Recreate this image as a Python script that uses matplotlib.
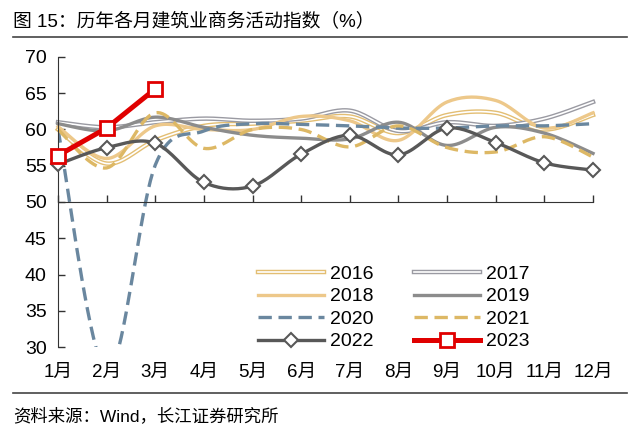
import numpy as np
import matplotlib
matplotlib.use('Agg')
import matplotlib.pyplot as plt
import matplotlib.patheffects as pe
from matplotlib.lines import Line2D

plt.rcParams['font.family'] = ['Liberation Sans', 'Noto Sans CJK SC']

months = ['1月', '2月', '3月', '4月', '5月', '6月', '7月', '8月', '9月', '10月', '11月', '12月']
y2016 = [60.0, 55.3, 58.5, 60.5, 60.8, 61.2, 61.8, 59.5, 62.0, 62.3, 60.0, 62.0]
y2017 = [61.0, 60.3, 61.0, 61.5, 61.2, 61.5, 62.6, 59.8, 61.0, 60.5, 61.5, 63.8]
y2018 = [60.4, 56.0, 60.5, 60.0, 60.0, 61.8, 61.2, 58.5, 63.8, 64.0, 60.2, 62.3]
y2019 = [60.8, 59.8, 61.7, 60.3, 59.2, 58.8, 58.7, 61.0, 57.8, 60.3, 59.5, 56.7]
y2020 = [60.0, 26.6, 55.1, 59.8, 60.8, 60.7, 60.5, 60.2, 60.2, 60.5, 60.5, 60.8]
y2021 = [60.0, 54.7, 62.3, 57.4, 60.0, 60.0, 57.6, 60.5, 57.5, 56.9, 59.0, 56.2]
y2022 = [55.2, 57.5, 58.1, 52.7, 52.2, 56.6, 59.2, 56.5, 60.2, 58.2, 55.4, 54.4]
y2023 = [56.4, 60.2, 65.6]

N = 20


def smooth(y):
    # bezier through the points, like excel smoothed lines
    x = np.arange(1, len(y) + 1, dtype=float)
    y = np.asarray(y, dtype=float)
    xs, ys = [], []
    t = np.linspace(0, 1, N, endpoint=False)
    n = len(y)
    for i in range(n - 1):
        i0, i3 = max(i - 1, 0), min(i + 2, n - 1)
        p0 = np.array([x[i0], y[i0]])
        p1 = np.array([x[i], y[i]])
        p2 = np.array([x[i + 1], y[i + 1]])
        p3 = np.array([x[i3], y[i3]])
        c1 = p1 + (p2 - p0) / 6
        c2 = p2 - (p3 - p1) / 6
        for tt in t:
            pt = (1 - tt) ** 3 * p1 + 3 * (1 - tt) ** 2 * tt * c1 + 3 * (1 - tt) * tt ** 2 * c2 + tt ** 3 * p2
            xs.append(pt[0])
            ys.append(pt[1])
    xs.append(x[-1])
    ys.append(y[-1])
    return np.array(xs), np.array(ys)


gold = '#E3BE73'
gold2 = '#EDC88A'
gold3 = '#DDB865'
grey = '#8C8C8C'
grey2 = '#9A9AA2'
blue = '#6A879F'
dark = '#585858'
red = '#E00000'

fig = plt.figure(figsize=(6.4, 4.36), dpi=100)
ax = fig.add_axes([0.0906, 0.2041, 0.836, 0.6652])

h = {}
x, y = smooth(y2016)
h['2016'], = ax.plot(x, y, color='white', lw=1.2, label='2016', clip_on=False,
                     path_effects=[pe.Stroke(linewidth=3.2, foreground=gold), pe.Normal()])
x, y = smooth(y2017)
h['2017'], = ax.plot(x, y, color='white', lw=1.2, label='2017', clip_on=False,
                     path_effects=[pe.Stroke(linewidth=3.2, foreground=grey2), pe.Normal()])
x, y = smooth(y2018)
h['2018'], = ax.plot(x, y, color=gold2, lw=2.4, label='2018', clip_on=False)
x, y = smooth(y2019)
h['2019'], = ax.plot(x, y, color=grey, lw=2.4, label='2019', clip_on=False)
x, y = smooth(y2020)
h['2020'], = ax.plot(x, y, color=blue, lw=2.4, dashes=(4, 2), label='2020')
x, y = smooth(y2021)
h['2021'], = ax.plot(x, y, color=gold3, lw=2.4, dashes=(4, 2), label='2021', clip_on=False)
x, y = smooth(y2022)
h['2022'], = ax.plot(x, y, color=dark, lw=2.4, marker='D', ms=7, mfc='white', mec=dark, mew=1.5,
                     markevery=list(range(0, len(x), N)), label='2022', clip_on=False, zorder=4)
h['2023'], = ax.plot(range(1, len(y2023) + 1), y2023, color=red, lw=3.6, marker='s', ms=10,
                     mfc='white', mec=red, mew=2, label='2023', clip_on=False, zorder=5)

ax.set_xlim(1, 12)
ax.set_ylim(30, 70)
ax.set_yticks(range(30, 71, 5))
ax.set_xticks(range(1, 13))
ax.set_xticklabels([])
ax.tick_params(axis='both', direction='in', length=5, width=1, colors='#333333', labelsize=14,
               labelcolor='black')
ax.tick_params(axis='y', pad=8)
for s in ['top', 'right']:
    ax.spines[s].set_visible(False)
ax.spines['bottom'].set_position(('data', 50))
ax.spines['left'].set_color('#333333')
ax.spines['bottom'].set_color('#333333')

sec = ax.secondary_xaxis(0)
sec.set_xticks(range(1, 13))
sec.set_xticklabels(months, fontsize=13.5)
sec.tick_params(length=0, pad=12)
sec.spines['bottom'].set_visible(False)

# legend fills by column, so reorder to read row by row
order = ['2016', '2018', '2020', '2022', '2017', '2019', '2021', '2023']
ax.legend([h[k] for k in order], order, ncol=2, loc='lower left', bbox_to_anchor=(0.355, -0.045),
          frameon=False, fontsize=14, handlelength=3.4, columnspacing=2.1, labelspacing=0.25,
          handletextpad=0.3, borderpad=0)

fig.text(0.02, 0.952, '图 15：历年各月建筑业商务活动指数（%）', fontsize=13.5, va='center', ha='left')
fig.add_artist(Line2D([0.02, 0.98], [0.915, 0.915], color='#444444', lw=1.2))
fig.add_artist(Line2D([0.02, 0.98], [0.099, 0.099], color='#444444', lw=1.2))
fig.text(0.02, 0.046, '资料来源：Wind，长江证券研究所', fontsize=12.5, va='center', ha='left')

fig.savefig('out.png', dpi=100)
